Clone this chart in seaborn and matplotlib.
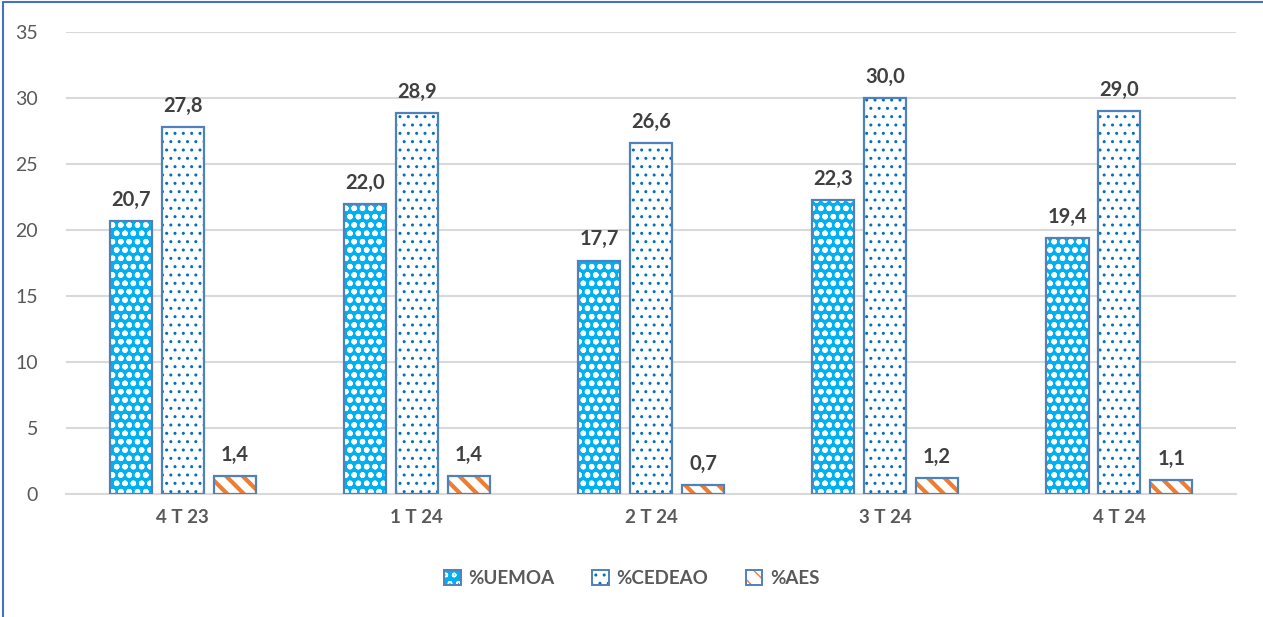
import pandas as pd
import matplotlib.pyplot as plt
import seaborn as sns
from matplotlib.patches import Rectangle, Patch
from matplotlib.lines import Line2D
from matplotlib.legend_handler import HandlerTuple

# data
periods = ["4 T 23", "1 T 24", "2 T 24", "3 T 24", "4 T 24"]
series = ["%UEMOA", "%CEDEAO", "%AES"]
uemoa = [20.7, 22.0, 17.7, 22.3, 19.4]
cedeao = [27.8, 28.9, 26.6, 30.0, 29.0]
aes = [1.4, 1.4, 0.7, 1.2, 1.1]

df = pd.DataFrame({
    "period": periods * 3,
    "serie": [s for s in series for _ in periods],
    "value": uemoa + cedeao + aes,
})

sns.set_style("white")
plt.rcParams["font.family"] = ["Lato", "DejaVu Sans"]

# face colour, hatch, hatch colour, hatch linewidth
styles = {
    "%UEMOA": ("#00B0F0", "oo", "white", 1.6),
    "%CEDEAO": ("white", "..", "#0070C0", 1.0),
    "%AES": ("white", "\\\\", "#ED7D31", 3.0),
}
edge_col = "#4F81BD"

fig = plt.figure(figsize=(12.63, 6.17), dpi=100)
ax = fig.add_axes([0.052, 0.199, 0.927, 0.749])

sns.barplot(data=df, x="period", y="value", hue="serie", order=periods,
            hue_order=series, width=0.665, gap=0.19, palette=["w"] * 3,
            legend=False, ax=ax)

def hatch_lw(p, lw):
    try:
        p.set_hatch_linewidth(lw)
    except AttributeError:
        pass

for container, s in zip(ax.containers, series):
    face, hatch, hcol, hlw = styles[s]
    for p in container:
        p.set_facecolor(face)
        p.set_hatch(hatch)
        p.set_edgecolor(hcol)
        p.set_linewidth(0)
        hatch_lw(p, hlw)
        ax.add_patch(Rectangle(p.get_xy(), p.get_width(), p.get_height(),
                               facecolor="none", edgecolor=edge_col, lw=1.6, zorder=3))
    ax.bar_label(container, labels=[f"{v:.1f}".replace(".", ",") for v in container.datavalues],
                 padding=8, fontsize=14.5, fontweight="bold", color="#404040")

ax.set_ylim(0, 35)
ax.set_yticks(range(0, 36, 5))
ax.grid(axis="y", color="#D9D9D9", lw=1.5)
ax.set_axisbelow(True)
for side in ["left", "right", "top"]:
    ax.spines[side].set_visible(False)
ax.spines["bottom"].set_color("#D9D9D9")
ax.spines["bottom"].set_linewidth(1.5)
ax.tick_params(axis="y", labelsize=14, labelcolor="#595959", length=0, pad=20)
ax.tick_params(axis="x", labelsize=13.5, labelcolor="#595959", length=0, pad=11)
for lbl in ax.get_xticklabels():
    lbl.set_fontweight("bold")
ax.set_xlabel("")
ax.set_ylabel("")

handles = []
for s in series:
    face, hatch, hcol, hlw = styles[s]
    inner = Patch(facecolor=face, hatch=hatch, edgecolor=hcol, lw=0)
    outline = Patch(facecolor="none", edgecolor=edge_col, lw=1.4)
    handles.append((inner, outline))
leg = fig.legend(handles, series, loc="center", bbox_to_anchor=(0.5, 0.063), ncol=3,
                 frameon=False, handlelength=0.9, handleheight=0.9, columnspacing=2.0,
                 handletextpad=0.4, prop={"weight": "bold", "size": 13.5},
                 handler_map={tuple: HandlerTuple(ndivide=1, pad=0)})
for t in leg.get_texts():
    t.set_color("#595959")

# chart-area border (left and top visible)
fig.add_artist(Line2D([0.002, 0.002], [0, 0.997], color="#4472C4", lw=1.5))
fig.add_artist(Line2D([0.002, 1], [0.997, 0.997], color="#4472C4", lw=1.5))

fig.savefig("out.png", dpi=100)
